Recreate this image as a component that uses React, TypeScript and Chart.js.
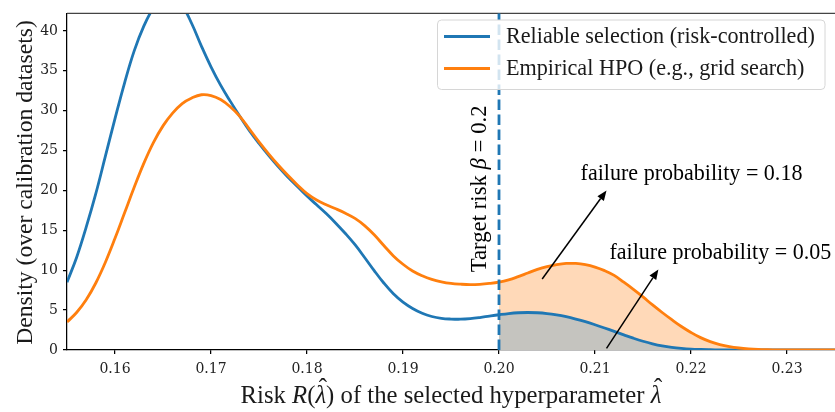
import React, { useEffect, useRef } from "react";
import { Chart, registerables } from "chart.js";

Chart.register(...registerables);

// Risk values of the selected hyperparameter (x grid)
const riskGrid = [
  0.155, 0.156, 0.157, 0.158, 0.159,
  0.16, 0.161, 0.162, 0.163, 0.164, 0.165, 0.166, 0.167, 0.168, 0.169,
  0.17, 0.171, 0.172, 0.173, 0.174, 0.175, 0.176, 0.177, 0.178, 0.179,
  0.18, 0.181, 0.182, 0.183, 0.184, 0.185, 0.186, 0.187, 0.188, 0.189,
  0.19, 0.191, 0.192, 0.193, 0.194, 0.195, 0.196, 0.197, 0.198, 0.199,
  0.2, 0.201, 0.202, 0.203, 0.204, 0.205, 0.206, 0.207, 0.208, 0.209,
  0.21, 0.211, 0.212, 0.213, 0.214, 0.215, 0.216, 0.217, 0.218, 0.219,
  0.22, 0.221, 0.222, 0.223, 0.224, 0.225, 0.226, 0.227, 0.228, 0.229,
  0.23, 0.231, 0.232, 0.233, 0.234, 0.235,
];

// Density: Reliable selection (risk-controlled)
const reliableDensity = [
  8.5, 11.6, 15.4, 19.6, 24.3,
  29.0, 33.5, 37.5, 40.6, 42.9, 44.3, 44.4, 43.2, 40.9, 38.1,
  35.5, 33.2, 31.2, 29.3, 27.5, 25.9, 24.4, 23.0, 21.7, 20.5,
  19.3, 18.2, 17.1, 15.9, 14.6, 13.2, 11.6, 9.95, 8.4, 7.05,
  6.0, 5.2, 4.6, 4.2, 3.97, 3.88, 3.86, 3.93, 4.07, 4.25,
  4.42, 4.57, 4.67, 4.7, 4.67, 4.57, 4.4, 4.17, 3.88, 3.55,
  3.17, 2.76, 2.33, 1.9, 1.48, 1.1, 0.78, 0.52, 0.33, 0.2,
  0.11, 0.06, 0.03, 0.01, 0, 0, 0, 0, 0, 0,
  0, 0, 0, 0, 0, 0,
];

// Density: Empirical HPO (e.g., grid search)
const empiricalDensity = [
  3.5, 4.7, 6.3, 8.4, 11.0,
  14.0, 17.2, 20.4, 23.4, 26.0, 28.1, 29.7, 30.9, 31.6, 32.0,
  31.9, 31.4, 30.5, 29.3, 27.7, 26.1, 24.6, 23.2, 21.9, 20.7,
  19.6, 18.8, 18.2, 17.7, 17.15, 16.5, 15.6, 14.45, 13.1, 11.8,
  10.75, 9.9, 9.3, 8.85, 8.55, 8.35, 8.25, 8.2, 8.24, 8.35,
  8.52, 8.8, 9.2, 9.65, 10.1, 10.45, 10.7, 10.85, 10.85, 10.7,
  10.4, 9.95, 9.35, 8.5, 7.6, 6.65, 5.65, 4.7, 3.8, 2.95,
  2.2, 1.55, 1.05, 0.68, 0.42, 0.25, 0.14, 0.07, 0.035, 0.015,
  0.005, 0, 0, 0, 0, 0,
];

const xTickValues = [0.16, 0.17, 0.18, 0.19, 0.2, 0.21, 0.22, 0.23];
const yTickValues = [0, 5, 10, 15, 20, 25, 30, 35, 40];
const xRange = [0.155, 0.235];
const yRange = [0, 42.2];
const targetRisk = 0.2;

const seriesLabels = [
  "Reliable selection (risk-controlled)",
  "Empirical HPO (e.g., grid search)",
];

const annotations = [
  { text: "failure probability = 0.18", textAt: [0.2085, 21.3], from: [0.2045, 8.9], to: [0.2112, 20.0] },
  { text: "failure probability = 0.05", textAt: [0.2115, 11.4], from: [0.2112, 0.2], to: [0.2166, 10.1] },
];

const BLUE = "#1f77b4";
const ORANGE = "#ff7f0e";
const SERIF = '"Liberation Serif", "Times New Roman", serif';
const TICK_FONT = '"DejaVu Serif", serif';

// [text, style, hat?]
type Seg = [string, string, boolean?];

function richWidth(ctx: CanvasRenderingContext2D, segs: Seg[], size: number, family: string) {
  let w = 0;
  for (const [t, st] of segs) {
    ctx.font = `${st} ${size}px ${family}`;
    w += ctx.measureText(t).width;
  }
  return w;
}

function fitSize(ctx: CanvasRenderingContext2D, segs: Seg[], target: number, family: string) {
  const base = 20;
  const w = richWidth(ctx, segs, base, family);
  return (base * target) / w;
}

function drawRich(ctx: CanvasRenderingContext2D, segs: Seg[], size: number, family: string, x: number, y: number, align: "left" | "center") {
  const total = richWidth(ctx, segs, size, family);
  let cx = align === "center" ? x - total / 2 : x;
  ctx.textAlign = "left";
  ctx.textBaseline = "alphabetic";
  for (const [t, st, hat] of segs) {
    ctx.font = `${st} ${size}px ${family}`;
    const w = ctx.measureText(t).width;
    ctx.fillText(t, cx, y);
    if (hat) {
      ctx.font = `${size}px ${family}`;
      const hw = ctx.measureText("ˆ").width;
      ctx.fillText("ˆ", cx + w / 2 - hw / 2 + size * 0.08, y - size * 0.3);
    }
    cx += w;
  }
}

function arrow(ctx: CanvasRenderingContext2D, x1: number, y1: number, x2: number, y2: number) {
  const ang = Math.atan2(y2 - y1, x2 - x1);
  const hl = 10;
  const hw = 4;
  const bx = x2 - hl * Math.cos(ang);
  const by = y2 - hl * Math.sin(ang);
  ctx.strokeStyle = "#000";
  ctx.fillStyle = "#000";
  ctx.lineWidth = 1.5;
  ctx.beginPath();
  ctx.moveTo(x1, y1);
  ctx.lineTo(bx, by);
  ctx.stroke();
  ctx.beginPath();
  ctx.moveTo(x2, y2);
  ctx.lineTo(bx + hw * Math.sin(ang), by - hw * Math.cos(ang));
  ctx.lineTo(bx - hw * Math.sin(ang), by + hw * Math.cos(ang));
  ctx.closePath();
  ctx.fill();
}

const overlayPlugin = {
  id: "overlay",
  afterDatasetsDraw(chart: any) {
    const { ctx, chartArea: ca, scales } = chart;
    const xs = scales.x;
    const ys = scales.y;
    ctx.save();

    // top spine
    ctx.strokeStyle = "#444";
    ctx.lineWidth = 1.25;
    ctx.beginPath();
    ctx.moveTo(ca.left, ca.top);
    ctx.lineTo(ca.right, ca.top);
    ctx.stroke();

    // target risk dashed line
    const tx = xs.getPixelForValue(targetRisk);
    ctx.strokeStyle = BLUE;
    ctx.lineWidth = 2.8;
    ctx.setLineDash([10.5, 4.5]);
    ctx.beginPath();
    ctx.moveTo(tx, ca.bottom);
    ctx.lineTo(tx, ca.top);
    ctx.stroke();
    ctx.setLineDash([]);

    // rotated label for target
    const tSegs: Seg[] = [["Target risk ", ""], ["β", "italic"], [" = 0.2", ""]];
    const tSize = fitSize(ctx, tSegs, 167, SERIF);
    ctx.fillStyle = "#000";
    ctx.save();
    ctx.translate(tx - 13, ys.getPixelForValue(20.2));
    ctx.rotate(-Math.PI / 2);
    drawRich(ctx, tSegs, tSize, SERIF, 0, 0, "center");
    ctx.restore();

    // annotations
    for (const a of annotations) {
      arrow(
        ctx,
        xs.getPixelForValue(a.from[0]), ys.getPixelForValue(a.from[1]),
        xs.getPixelForValue(a.to[0]), ys.getPixelForValue(a.to[1])
      );
      const segs: Seg[] = [[a.text, ""]];
      const s = fitSize(ctx, segs, 222, SERIF);
      ctx.fillStyle = "#000";
      drawRich(ctx, segs, s, SERIF, xs.getPixelForValue(a.textAt[0]), ys.getPixelForValue(a.textAt[1]), "left");
    }

    // legend
    const lx = 437.5, ly = 20, lw = 387.5, lh = 69.5, r = 4;
    ctx.fillStyle = "rgba(255,255,255,0.8)";
    ctx.strokeStyle = "#d6d6d6";
    ctx.lineWidth = 1;
    ctx.beginPath();
    ctx.roundRect(lx, ly, lw, lh, r);
    ctx.fill();
    ctx.stroke();
    const legSize = fitSize(ctx, [[seriesLabels[0], ""]], 309, SERIF);
    const rows = [
      { color: BLUE, label: seriesLabels[0], cy: 36.5 },
      { color: ORANGE, label: seriesLabels[1], cy: 68.5 },
    ];
    for (const row of rows) {
      ctx.strokeStyle = row.color;
      ctx.lineWidth = 3;
      ctx.beginPath();
      ctx.moveTo(444, row.cy);
      ctx.lineTo(490, row.cy);
      ctx.stroke();
      ctx.fillStyle = "#1a1a1a";
      drawRich(ctx, [[row.label, ""]], legSize, SERIF, 506, row.cy + 6.5, "left");
    }

    ctx.restore();
  },
  afterDraw(chart: any) {
    const { ctx, chartArea: ca } = chart;
    ctx.save();
    ctx.fillStyle = "#1a1a1a";
    // x axis title
    const xSegs: Seg[] = [
      ["Risk ", ""], ["R", "italic"], ["(", ""], ["λ", "italic", true],
      [") of the selected hyperparameter ", ""], ["λ", "italic", true],
    ];
    const xSize = fitSize(ctx, xSegs, 421, SERIF);
    drawRich(ctx, xSegs, xSize, SERIF, (ca.left + ca.right) / 2, 403, "center");
    // y axis title
    const ySegs: Seg[] = [["Density (over calibration datasets)", ""]];
    const ySize = fitSize(ctx, ySegs, 325, SERIF);
    ctx.translate(32, 182.5);
    ctx.rotate(-Math.PI / 2);
    drawRich(ctx, ySegs, ySize, SERIF, 0, 0, "center");
    ctx.restore();
  },
};

export default function App() {
  const canvasRef = useRef<HTMLCanvasElement | null>(null);

  useEffect(() => {
    const canvas = canvasRef.current;
    if (!canvas) return;
    const relPts = riskGrid.map((x, i) => ({ x, y: reliableDensity[i] }));
    const empPts = riskGrid.map((x, i) => ({ x, y: empiricalDensity[i] }));
    const start = riskGrid.findIndex((v) => v >= targetRisk - 1e-9);

    const axisCommon = {
      grid: { drawOnChartArea: false, drawTicks: true, tickLength: 4, color: "#000", lineWidth: 1.25 },
      border: { display: true, color: "#000", width: 1.25 },
    };

    const lineCommon = {
      pointRadius: 0,
      tension: 0.4,
    };

    const chart = new Chart(canvas, {
      type: "line",
      data: {
        datasets: [
          {
            label: "fill-empirical",
            data: empPts.slice(start),
            fill: "origin",
            backgroundColor: "#ffd9b8",
            borderColor: "rgba(0,0,0,0)",
            borderWidth: 0,
            order: 4,
            ...lineCommon,
          },
          {
            label: "fill-reliable",
            data: relPts.slice(start),
            fill: "origin",
            backgroundColor: "#c5c4bf",
            borderColor: "rgba(0,0,0,0)",
            borderWidth: 0,
            order: 3,
            ...lineCommon,
          },
          {
            label: seriesLabels[0],
            data: relPts,
            fill: false,
            borderColor: BLUE,
            borderWidth: 2.8,
            order: 2,
            ...lineCommon,
          },
          {
            label: seriesLabels[1],
            data: empPts,
            fill: false,
            borderColor: ORANGE,
            borderWidth: 2.8,
            order: 1,
            ...lineCommon,
          },
        ],
      },
      options: {
        animation: false,
        responsive: false,
        events: [],
        layout: { padding: { top: 9, right: 0, left: 0, bottom: 0 } },
        plugins: { legend: { display: false }, tooltip: { enabled: false } },
        scales: {
          x: {
            type: "linear",
            min: xRange[0],
            max: xRange[1],
            afterBuildTicks: (s: any) => {
              s.ticks = xTickValues.map((v) => ({ value: v }));
            },
            afterFit: (s: any) => {
              s.height = 62;
            },
            ticks: {
              callback: (v: any) => Number(v).toFixed(2),
              font: { family: TICK_FONT, size: 14 },
              color: "#222",
              padding: 7,
              maxRotation: 0,
              autoSkip: false,
            },
            ...axisCommon,
          },
          y: {
            type: "linear",
            min: yRange[0],
            max: yRange[1],
            afterBuildTicks: (s: any) => {
              s.ticks = yTickValues.map((v) => ({ value: v }));
            },
            afterFit: (s: any) => {
              s.width = 67;
            },
            ticks: {
              callback: (v: any) => String(v),
              font: { family: TICK_FONT, size: 14 },
              color: "#222",
              padding: 5,
              autoSkip: false,
            },
            ...axisCommon,
          },
        },
      },
      plugins: [overlayPlugin],
    } as any);

    return () => chart.destroy();
  }, []);

  return (
    <div style={{ position: "fixed", left: 0, top: 0, width: 835, height: 412, background: "#fff" }}>
      <canvas ref={canvasRef} width={835} height={412} style={{ display: "block" }} />
    </div>
  );
}
